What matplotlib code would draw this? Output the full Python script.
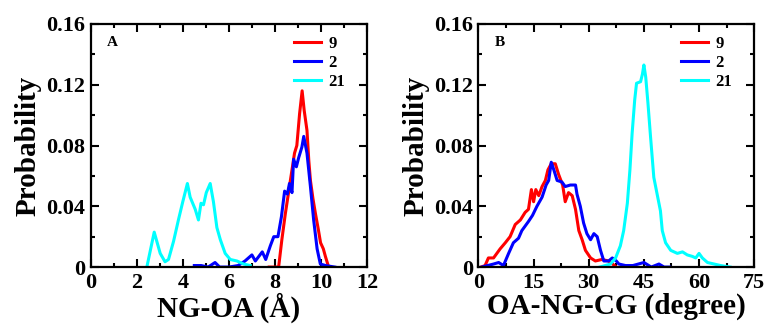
import matplotlib
matplotlib.use("Agg")
import matplotlib.pyplot as plt
from matplotlib.ticker import MultipleLocator, FuncFormatter

# --- panel A: NG-OA distance
a_x9 = [7.75, 8.16, 8.3, 8.45, 8.6, 8.72, 8.85, 8.95, 9.07, 9.18, 9.27, 9.39, 9.47, 9.54, 9.65, 9.76, 9.88, 9.98, 10.1, 10.19, 10.33]
a_y9 = [0, 0, 0.018, 0.035, 0.05, 0.062, 0.075, 0.08, 0.101, 0.116, 0.103, 0.09, 0.07, 0.057, 0.045, 0.035, 0.025, 0.016, 0.012, 0.007, 0]

a_x2 = [4.5, 4.8, 5.1, 5.4, 5.6, 6.0, 6.4, 6.7, 7.0, 7.15, 7.45, 7.6, 7.8, 7.95, 8.13, 8.28, 8.42, 8.54, 8.63, 8.74, 8.81, 8.93, 9.03, 9.17, 9.25, 9.39, 9.54, 9.68, 9.83, 9.97, 10.2, 10.6]
a_y2 = [0.001, 0.001, 0.0, 0.003, 0.0, 0.0, 0.001, 0.004, 0.008, 0.004, 0.010, 0.005, 0.014, 0.020, 0.020, 0.033, 0.050, 0.048, 0.055, 0.049, 0.071, 0.066, 0.072, 0.079, 0.086, 0.075, 0.053, 0.031, 0.012, 0.002, 0.001, 0]

a_x21 = [2.44, 2.76, 3.02, 3.23, 3.38, 3.6, 3.81, 4.0, 4.2, 4.32, 4.54, 4.68, 4.79, 4.9, 5.02, 5.19, 5.33, 5.48, 5.63, 5.84, 6.06, 6.35, 6.64, 6.93]
a_y21 = [0, 0.023, 0.009, 0.0035, 0.005, 0.017, 0.031, 0.043, 0.055, 0.046, 0.038, 0.031, 0.042, 0.041, 0.049, 0.055, 0.043, 0.026, 0.018, 0.009, 0.005, 0.004, 0.002, 0.001]

# --- panel B: OA-NG-CG angle
b_x9 = [0.7, 1.8, 2.7, 4.1, 5.0, 5.9, 7.3, 8.6, 10.0, 11.4, 12.7, 13.6, 14.4, 15.0, 15.6, 16.4, 17.3, 18.2, 18.9, 19.8, 20.9, 21.8, 22.9, 23.6, 24.5, 25.5, 26.4, 27.3, 28.2, 29.1, 30.5, 31.8, 33.6, 35.4, 36.5, 37.5]
b_y9 = [0, 0.001, 0.006, 0.006, 0.009, 0.012, 0.016, 0.020, 0.028, 0.031, 0.036, 0.038, 0.051, 0.043, 0.051, 0.047, 0.053, 0.057, 0.064, 0.068, 0.068, 0.061, 0.054, 0.043, 0.049, 0.047, 0.038, 0.024, 0.018, 0.011, 0.006, 0.004, 0.005, 0.004, 0.002, 0]

b_x2 = [0.9, 4.1, 5.5, 6.8, 8.2, 9.5, 10.9, 11.8, 12.7, 13.6, 14.7, 15.9, 17.3, 18.4, 19.1, 19.8, 20.5, 21.4, 22.7, 23.6, 25.0, 26.4, 26.8, 27.7, 28.6, 29.5, 30.5, 31.4, 32.3, 33.2, 34.1, 35.4, 36.4, 37.5, 38.2, 40.0, 42.0, 45.0, 47.0, 49.1, 50.5, 52.0]
b_y2 = [0, 0.002, 0.003, 0.001, 0.009, 0.016, 0.019, 0.024, 0.027, 0.030, 0.034, 0.040, 0.046, 0.054, 0.057, 0.069, 0.064, 0.057, 0.056, 0.053, 0.054, 0.054, 0.048, 0.040, 0.029, 0.022, 0.018, 0.022, 0.020, 0.011, 0.004, 0.004, 0.006, 0.004, 0.002, 0.001, 0.001, 0.003, 0.0, 0.002, 0.0, 0]

b_x21 = [33.0, 35.9, 37.3, 38.6, 39.5, 40.5, 41.2, 41.8, 42.5, 43.0, 44.1, 44.6, 45.0, 45.5, 46.1, 46.8, 47.7, 48.6, 49.5, 50.0, 50.9, 52.3, 54.1, 55.5, 56.8, 58.2, 59.1, 60.0, 60.9, 62.3, 64.1, 65.9, 68.5]
b_y21 = [0, 0.002, 0.006, 0.014, 0.024, 0.042, 0.064, 0.088, 0.110, 0.121, 0.122, 0.127, 0.133, 0.125, 0.108, 0.086, 0.059, 0.048, 0.037, 0.024, 0.016, 0.011, 0.009, 0.010, 0.008, 0.007, 0.006, 0.009, 0.006, 0.003, 0.002, 0.001, 0]

labels = ["9", "2", "21"]
colors = ["#ff0000", "#0000ff", "#00ffff"]

plt.rcParams["font.family"] = ["Liberation Serif", "DejaVu Serif"]
plt.rcParams["font.weight"] = "bold"


def yfmt(v, pos):
    return "0" if abs(v) < 1e-9 else f"{v:.2f}"


def style_axes(ax, xmax, xmajor, xminor, xlabel, tag):
    ax.set_xlim(0, xmax)
    ax.set_ylim(0, 0.16)
    ax.xaxis.set_major_locator(MultipleLocator(xmajor))
    ax.xaxis.set_minor_locator(MultipleLocator(xminor))
    ax.yaxis.set_major_locator(MultipleLocator(0.04))
    ax.yaxis.set_minor_locator(MultipleLocator(0.02))
    ax.yaxis.set_major_formatter(FuncFormatter(yfmt))
    ax.tick_params(which="both", direction="in", top=True, right=True, width=1.5)
    ax.tick_params(which="major", length=6, labelsize=16, pad=4)
    ax.tick_params(which="minor", length=3)
    for s in ax.spines.values():
        s.set_linewidth(1.6)
    ax.set_xlabel(xlabel, fontsize=21, fontweight="bold", labelpad=0)
    ax.set_ylabel("Probability", fontsize=21, fontweight="bold", labelpad=3)
    ax.text(0.06, 0.925, tag, transform=ax.transAxes, fontsize=11,
            fontweight="bold", ha="left", va="center")
    ax.legend(loc="upper left", bbox_to_anchor=(0.735, 0.952), frameon=False,
              prop={"size": 12, "weight": "bold"}, handlelength=1.6,
              handletextpad=0.45, labelspacing=0.2, borderpad=0,
              borderaxespad=0)


fig = plt.figure(figsize=(7.68, 3.33), dpi=100)
ax1 = fig.add_axes([0.118, 0.198, 0.360, 0.730])
ax2 = fig.add_axes([0.623, 0.198, 0.359, 0.730])

for xs, ys, lab, c in zip([a_x9, a_x2, a_x21], [a_y9, a_y2, a_y21], labels, colors):
    ax1.plot(xs, ys, color=c, lw=2.2, label=lab)
for xs, ys, lab, c in zip([b_x9, b_x2, b_x21], [b_y9, b_y2, b_y21], labels, colors):
    ax2.plot(xs, ys, color=c, lw=2.2, label=lab)

style_axes(ax1, 12, 2, 1, "NG-OA (Å)", "A")
style_axes(ax2, 75, 15, 7.5, "OA-NG-CG (degree)", "B")

fig.savefig("out.png", dpi=100)
